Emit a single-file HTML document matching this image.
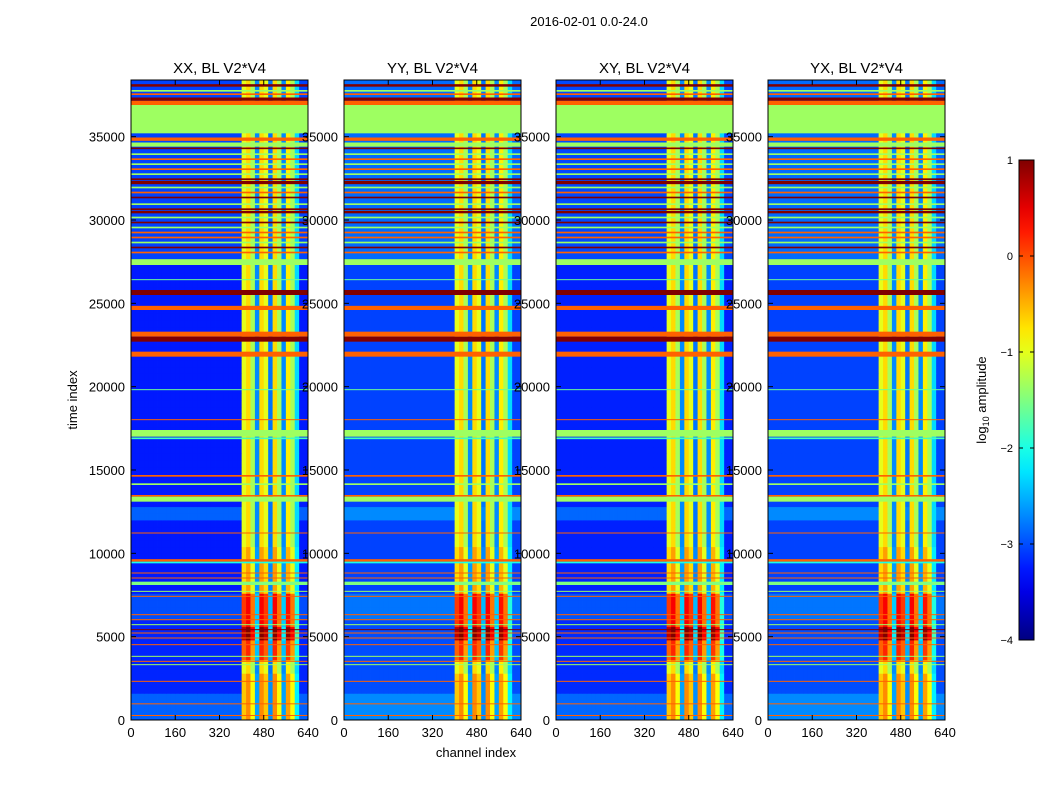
<!DOCTYPE html>
<html><head><meta charset="utf-8"><style>
body{margin:0;background:#fff;}
svg{display:block;font-family:"Liberation Sans",sans-serif;}
</style></head><body>
<svg id="fig" width="1050" height="800" viewBox="0 0 1050 800"></svg>
<script>
// ---- data ----
const panelTitles = ["XX, BL V2*V4","YY, BL V2*V4","XY, BL V2*V4","YX, BL V2*V4"];
const panelBgOffset = [0, 0.2, 0.03, 0.2];
const yTicks = [0,5000,10000,15000,20000,25000,30000,35000];
const xTicks = [0,160,320,480,640];
const cbTicks = [1,0,-1,-2,-3,-4];
const cbLabels = ["1","0","\u22121","\u22122","\u22123","\u22124"];
// background level by time segment
const bgT0 = [0,1500,6000,7500,12000,13000,27500];
const bgT1 = [1500,6000,7500,12000,13000,27500,38400];
const bgV  = [-2.9,-3.2,-3.0,-3.25,-2.9,-3.25,-3.05];
// per-channel level (16-channel bins, 40 bins)
const chanLevel = [-9,-9,-9,-9,-9,-9,-9,-9,-9,-9,-9,-9,-9,-9,-9,-9,-9,-9,-9,-9,-9,-9,-9,-9,-9,
  -1.0,-0.7,-1.3,-2.7,-0.7,-1.0,-2.8,-0.7,-1.3,-2.7,-0.8,-1.3,-2.3,-9,-9];
// boost of RFI channels by time segment
const boostT0 = [0,3500,4800,5500,7500];
const boostT1 = [3000,4800,5500,7500,10500];
const boostV  = [0.4,0.9,1.7,1.1,0.3];
// full-width horizontal bands
const bandT0 = [38000,37700,37500,37150,36900,35200,34750,34400,34250,33900,33600,33300,33000,32700,32400,32150,31900,31600,31300,30900,30600,30400,30100,29800,29500,29200,28900,28600,28300,28000,27300,26400,25500,24600,23000,22700,21800,19800,18000,17000,16850,14600,14100,13400,13100,11200,9500,9400,8800,8500,8100,7700,7400,6300,6000,5700,5400,5200,4900,4500,3800,3500,3300,2300,950,250];
const bandT1 = [38150,37800,37600,37350,37150,36900,34950,34650,34350,34000,33700,33400,33100,32800,32500,32350,32000,31700,31400,31000,30700,30550,30200,29900,29600,29300,29000,28700,28400,28100,27650,26450,25800,24850,23300,23000,22100,19850,18050,17400,16950,14700,14200,13500,13400,11250,9650,9500,8850,8550,8300,7750,7450,6350,6050,5750,5450,5250,4950,4550,3850,3550,3350,2350,1000,300];
const bandV  = [1,-1.35,-0.1,1,-0.1,-1.35,-0.1,-1.35,1,-1.35,-0.1,-1.35,-0.1,-1.35,1,1,-1.35,-0.1,1,-1.35,1,1,-1.35,1,-1.35,-0.1,-0.1,-1.35,1,-0.1,-1.35,-1.6,1,-0.1,-0.1,1,-0.1,-1.6,-0.1,-1.35,-1.8,-0.1,-1.35,-0.1,-1.35,-0.1,-0.1,-2.0,-0.1,-0.1,-1.5,-1.35,-0.1,-0.1,-0.1,-1.35,1,-0.1,-0.1,-0.1,-1.35,-0.1,-1.35,-0.1,-0.1,-0.1];

// ---- helpers ----
const NS="http://www.w3.org/2000/svg";
const svg=document.getElementById('fig');
function mk(tag,attrs,parent){const e=document.createElementNS(NS,tag);for(const k in attrs)e.setAttribute(k,attrs[k]);(parent||svg).appendChild(e);return e;}
function jet(v){let x=(v+4)/5;x=Math.max(0,Math.min(1,x));
  const c=t=>Math.round(255*Math.max(0,Math.min(1,t)));
  const r=c(Math.min(4*x-1.5,-4*x+4.5)),g=c(Math.min(4*x-0.5,-4*x+3.5)),b=c(Math.min(4*x+0.5,-4*x+2.5));
  return `rgb(${r},${g},${b})`;}
function segVal(t,T0,T1,V,def){for(let i=0;i<T0.length;i++)if(t>=T0[i]&&t<T1[i])return V[i];return def;}
const TMAX=38400,CMAX=640,Y0=80,Y1=720,W=177;
const panelX=[131,344,556,768];
const ROWBIN=400,COLBIN=16;

mk('text',{x:589,y:26,'font-size':13,'text-anchor':'middle',}).textContent="2016-02-01 0.0-24.0";

panelX.forEach((px,p)=>{
  const xs=c=>px+c/CMAX*W, ys=t=>Y1-t/TMAX*(Y1-Y0);
  const g=mk('g',{});
  
  
  yTicks.forEach(t=>{const l=mk('text',{x:px-6,y:ys(t)+5,'font-size':13,'text-anchor':'end'});
    l.textContent=t;});
  for(let r=0;r*ROWBIN<TMAX;r++){
    const tm=r*ROWBIN+ROWBIN/2;
    const bg=segVal(tm,bgT0,bgT1,bgV,-3.2)+panelBgOffset[p];
    const boost=segVal(tm,boostT0,boostT1,boostV,0);
    for(let c=0;c<chanLevel.length;c++){
      let v=bg;
      if(chanLevel[c]>-9){ let s=chanLevel[c]+(chanLevel[c]>-2?boost:boost*0.3); v=Math.max(bg,s);}
      const x0=xs(c*COLBIN),x1=xs((c+1)*COLBIN),y0=ys((r+1)*ROWBIN),y1=ys(r*ROWBIN);
      const cell=mk('rect',{x:x0,y:y0,width:x1-x0+0.4,height:y1-y0+0.4,fill:jet(v)},g);
      
      
    }
  }
  for(let i=0;i<bandT0.length;i++){
    const y0=ys(Math.min(bandT1[i],TMAX)),y1=ys(bandT0[i]);
    const b=mk('rect',{x:px,y:y0,width:W,height:Math.max(1,y1-y0),fill:jet(bandV[i])},g);
    
    
  }
  const fr=mk('rect',{x:px,y:Y0,width:W,height:Y1-Y0,fill:'none',stroke:'#000','stroke-width':1});
  
  yTicks.forEach(t=>{mk('line',{x1:px,x2:px+5,y1:ys(t),y2:ys(t),stroke:'#000'});mk('line',{x1:px+W-5,x2:px+W,y1:ys(t),y2:ys(t),stroke:'#000'});});
  xTicks.forEach(c=>{mk('line',{x1:xs(c),x2:xs(c),y1:Y1,y2:Y1-5,stroke:'#000'});mk('line',{x1:xs(c),x2:xs(c),y1:Y0,y2:Y0+5,stroke:'#000'});
    const l=mk('text',{x:xs(c),y:737,'font-size':13,'text-anchor':'middle'});
    l.textContent=c;});
  const tt=mk('text',{x:px+W/2,y:73,'font-size':15,'text-anchor':'middle'});
  tt.textContent=panelTitles[p];
});
mk('text',{x:476,y:757,'font-size':13,'text-anchor':'middle',}).textContent="channel index";
mk('text',{x:77,y:400,'font-size':13,'text-anchor':'middle',transform:'rotate(-90 77 400)',}).textContent="time index";

const defs=mk('defs',{});
const lg=mk('linearGradient',{id:'jetg',x1:0,y1:1,x2:0,y2:0},defs);
for(let i=0;i<=20;i++){const v=-4+5*i/20;mk('stop',{offset:i/20,'stop-color':jet(v)},lg);}
mk('rect',{x:1019,y:160,width:15,height:480,fill:'url(#jetg)',stroke:'#000',});
cbTicks.forEach((v,i)=>{const y=640-(v+4)/5*480;
  mk('line',{x1:1019,x2:1023,y1:y,y2:y,stroke:'#000'});mk('line',{x1:1030,x2:1034,y1:y,y2:y,stroke:'#000'});
  const l=mk('text',{x:1013,y:y+4,'font-size':11,'text-anchor':'end'});
  l.textContent=cbLabels[i];});
const cl=mk('text',{x:986,y:400,'font-size':13,'text-anchor':'middle',transform:'rotate(-90 986 400)',});
cl.innerHTML='log<tspan font-size="9" dy="3">10</tspan><tspan dy="-3"> amplitude</tspan>';
</script>
</body></html>
